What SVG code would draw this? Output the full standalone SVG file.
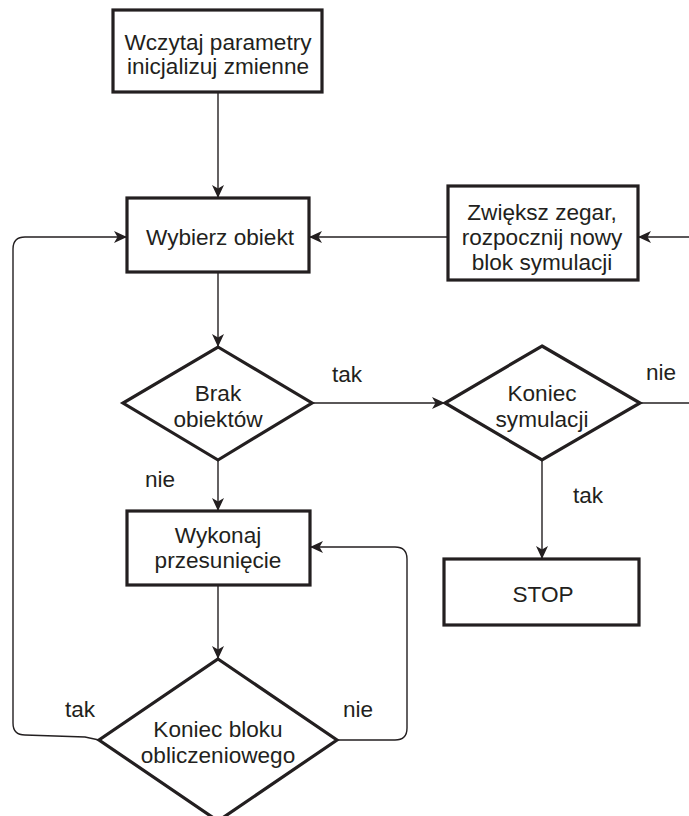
<svg xmlns="http://www.w3.org/2000/svg" width="689" height="816" viewBox="0 0 689 816">
  <defs>
    <marker id="arrow" markerUnits="userSpaceOnUse" markerWidth="14" markerHeight="12" refX="13" refY="6" orient="auto">
      <path d="M0,0 L13,6 L0,12 L3.5,6 Z" fill="#231f20"/>
    </marker>
    <style>
      .box { fill: #ffffff; stroke: #231f20; stroke-width: 3.2; }
      .line { fill: none; stroke: #231f20; stroke-width: 1.4; }
      text { font-family: "Liberation Sans", Arial, sans-serif; font-size: 22.6px; fill: #231f20; }
      .c { text-anchor: middle; }
    </style>
  </defs>
  <rect width="689" height="816" fill="#ffffff"/>

  <!-- connectors -->
  <g id="connectors">
    <line class="line" x1="218" y1="92" x2="218" y2="198" marker-end="url(#arrow)"/>
    <line class="line" x1="448" y1="237" x2="309" y2="237" marker-end="url(#arrow)"/>
    <line class="line" x1="689" y1="237" x2="638" y2="237" marker-end="url(#arrow)"/>
    <line class="line" x1="218" y1="272" x2="218" y2="347" marker-end="url(#arrow)"/>
    <line class="line" x1="312" y1="403" x2="445" y2="403" marker-end="url(#arrow)"/>
    <line class="line" x1="640" y1="403" x2="689" y2="403"/>
    <line class="line" x1="218" y1="460" x2="218" y2="511" marker-end="url(#arrow)"/>
    <line class="line" x1="542" y1="460" x2="542" y2="559" marker-end="url(#arrow)"/>
    <line class="line" x1="218" y1="585" x2="218" y2="659" marker-end="url(#arrow)"/>
    <!-- loop back to the object selection -->
    <path class="line" d="M99,740 L85,737 L25,735 Q13,735 13,723 L13,249 Q13,237 25,237 L127,237" marker-end="url(#arrow)"/>
    <!-- loop back to the move step -->
    <path class="line" d="M337,740 L395,740 Q407,740 407,728 L407,559 Q407,547 395,547 L310,547" marker-end="url(#arrow)"/>
  </g>

  <!-- branch labels -->
  <g id="labels">
    <text class="c" x="347" y="382">tak</text>
    <text class="c" x="661" y="380">nie</text>
    <text class="c" x="160" y="487">nie</text>
    <text class="c" x="588" y="503">tak</text>
    <text class="c" x="80" y="717">tak</text>
    <text class="c" x="358" y="717">nie</text>
  </g>

  <g id="start">
    <rect class="box" x="113" y="10" width="209" height="82"/>
    <text class="c" x="218" y="50">Wczytaj parametry</text>
    <text class="c" x="218" y="74">inicjalizuj zmienne</text>
  </g>

  <g id="select">
    <rect class="box" x="127" y="198" width="182" height="74"/>
    <text class="c" x="220" y="245">Wybierz obiekt</text>
  </g>

  <g id="clock">
    <rect class="box" x="448" y="186" width="190" height="94"/>
    <text class="c" x="542" y="220">Zwiększ zegar,</text>
    <text class="c" x="542" y="245">rozpocznij nowy</text>
    <text class="c" x="542" y="270">blok symulacji</text>
  </g>

  <g id="no-objects">
    <polygon class="box" points="218,347 312,403 218,460 123,403"/>
    <text class="c" x="218" y="401">Brak</text>
    <text class="c" x="218" y="427">obiektów</text>
  </g>

  <g id="sim-end">
    <polygon class="box" points="542,346 640,403 542,460 445,403"/>
    <text class="c" x="542" y="401">Koniec</text>
    <text class="c" x="542" y="427">symulacji</text>
  </g>

  <g id="move">
    <rect class="box" x="127" y="511" width="183" height="74"/>
    <text class="c" x="218" y="543">Wykonaj</text>
    <text class="c" x="218" y="568">przesunięcie</text>
  </g>

  <g id="stop">
    <rect class="box" x="444" y="559" width="195" height="66"/>
    <text class="c" x="543" y="602">STOP</text>
  </g>

  <g id="block-end">
    <polygon class="box" points="218,659 337,740 218,821 99,740"/>
    <text class="c" x="218" y="737">Koniec bloku</text>
    <text class="c" x="218" y="763">obliczeniowego</text>
  </g>
</svg>
